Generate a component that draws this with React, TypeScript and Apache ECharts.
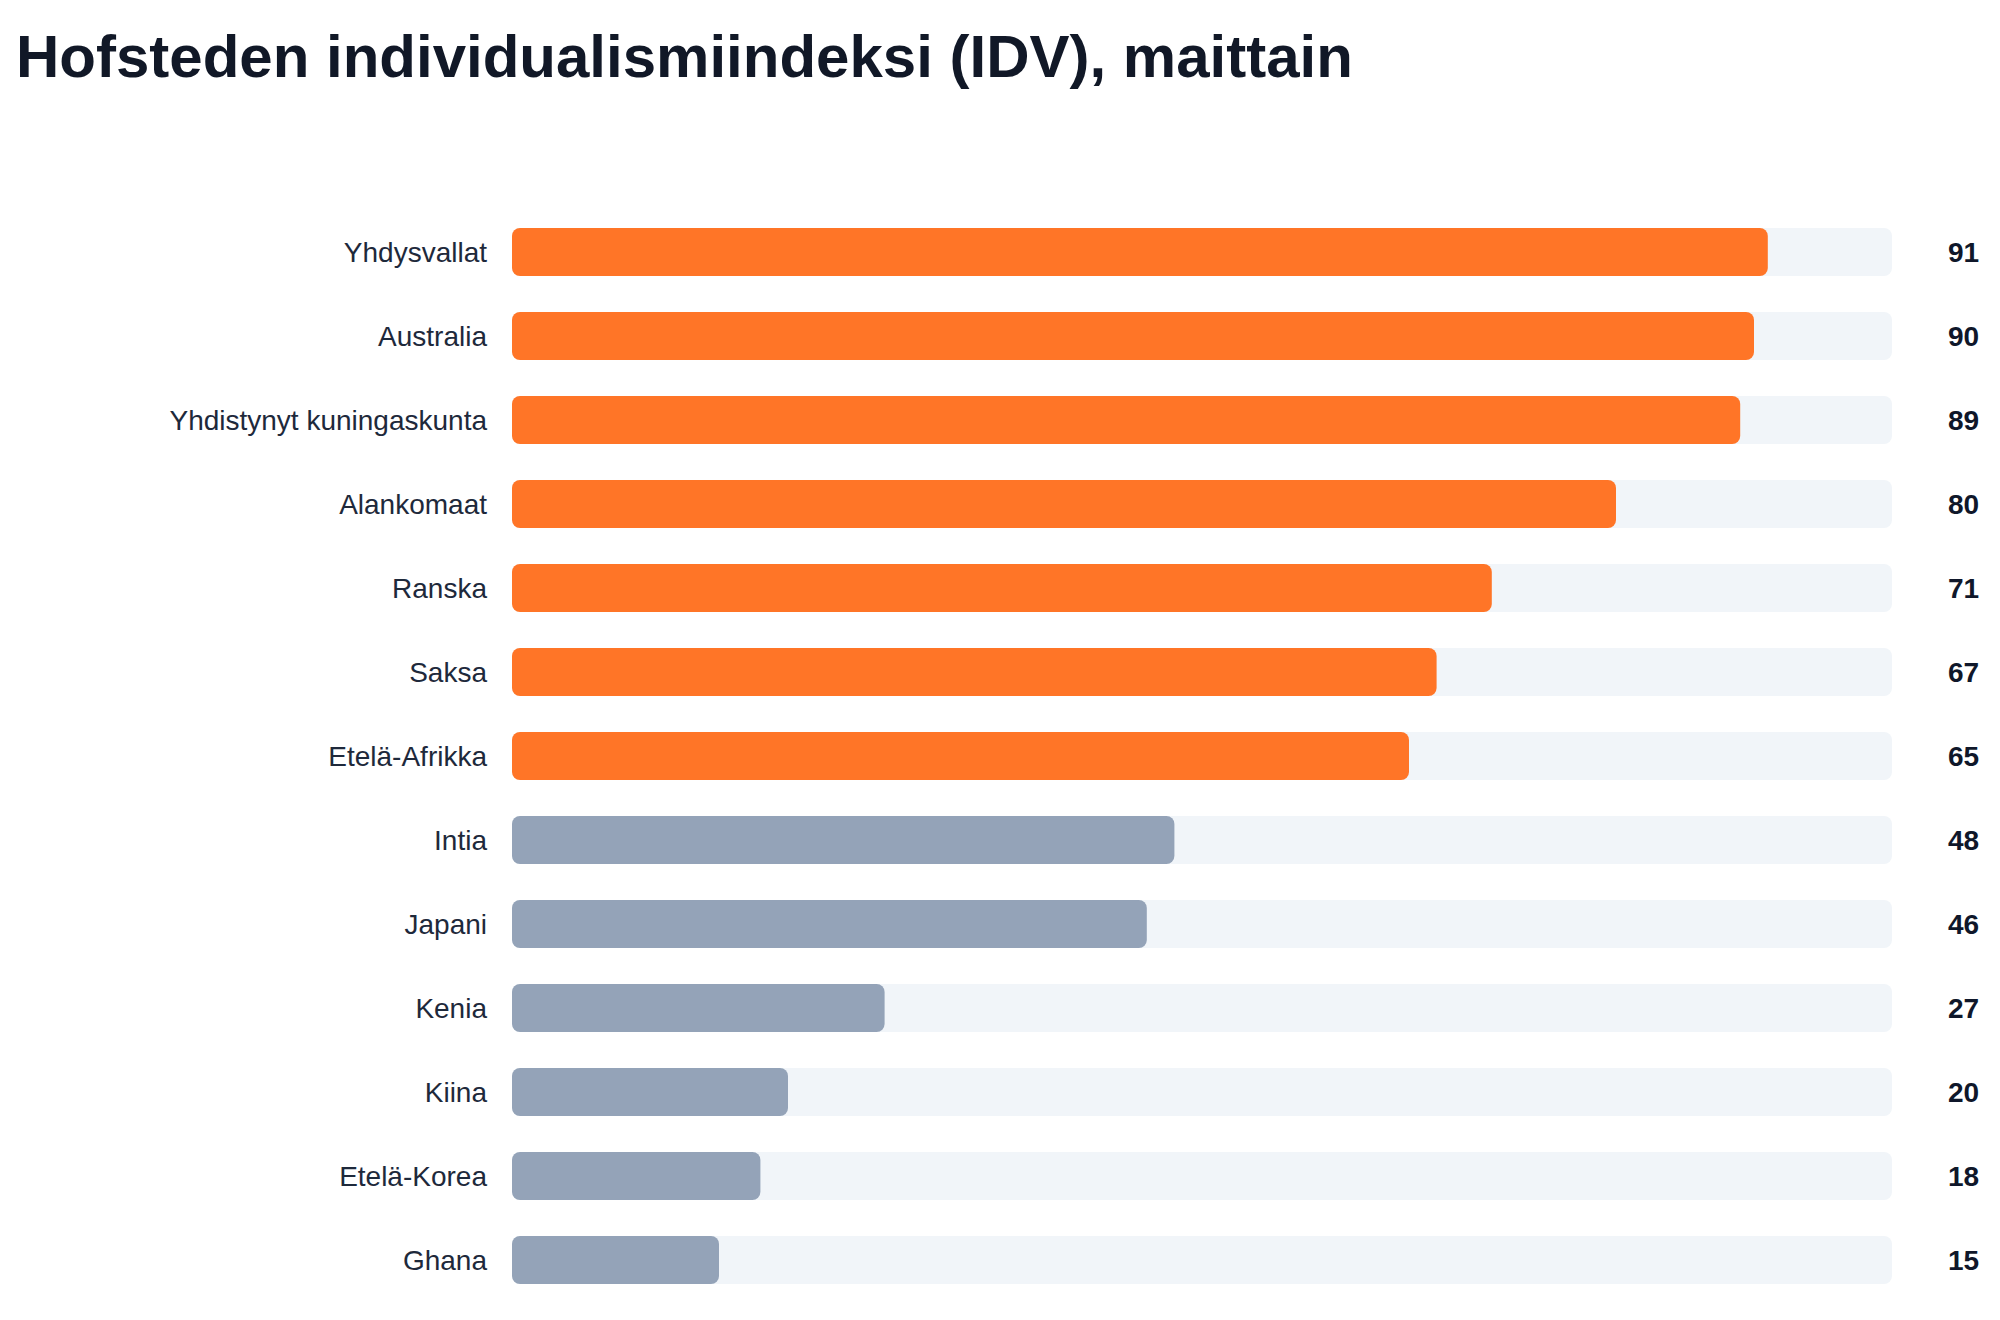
import React, { useEffect, useRef } from "react";
import * as echarts from "echarts";

const TITLE = "Hofsteden individualismiindeksi (IDV), maittain";
const countries = [
  "Yhdysvallat",
  "Australia",
  "Yhdistynyt kuningaskunta",
  "Alankomaat",
  "Ranska",
  "Saksa",
  "Etelä-Afrikka",
  "Intia",
  "Japani",
  "Kenia",
  "Kiina",
  "Etelä-Korea",
  "Ghana",
];
const idv = [91, 90, 89, 80, 71, 67, 65, 48, 46, 27, 20, 18, 15];
const scaleMax = 100;
const highlightThreshold = 50;

const ORANGE = "#ff7527";
const GRAY = "#94a3b8";
const TRACK = "#f1f5f9";
const FONT = "'Liberation Sans', Arial, Helvetica, sans-serif";

export default function App() {
  const ref = useRef<HTMLDivElement>(null);
  useEffect(() => {
    if (!ref.current) return;
    const chart = echarts.init(ref.current, undefined, { renderer: "svg" });
    chart.setOption({
      animation: false,
      backgroundColor: "#ffffff",
      graphic: [
        {
          type: "text",
          left: 16,
          top: 26,
          style: {
            text: TITLE,
            font: `bold 60px ${FONT}`,
            fill: "#111827",
          },
        },
      ],
      grid: { left: 512, right: 108, top: 210, bottom: 18, containLabel: false },
      xAxis: {
        type: "value",
        min: 0,
        max: scaleMax,
        show: false,
      },
      yAxis: {
        type: "category",
        inverse: true,
        data: countries,
        axisLine: { show: false },
        axisTick: { show: false },
        splitLine: { show: false },
        axisLabel: {
          margin: 25,
          fontSize: 28,
          fontFamily: FONT,
          color: "#1e293b",
        },
      },
      series: [
        {
          type: "bar",
          data: idv.map(() => scaleMax),
          barWidth: 48,
          barGap: "-100%",
          silent: true,
          itemStyle: { color: TRACK, borderRadius: 8 },
          label: {
            show: true,
            position: "right",
            distance: 56,
            formatter: (p: any) => String(idv[p.dataIndex]),
            fontSize: 28,
            fontWeight: "bold",
            fontFamily: FONT,
            color: "#0f172a",
          },
          z: 1,
        },
        {
          type: "bar",
          data: idv,
          barWidth: 48,
          barGap: "-100%",
          itemStyle: {
            borderRadius: 8,
            color: (p: any) => (p.value >= highlightThreshold ? ORANGE : GRAY),
          },
          z: 2,
        },
      ],
    });
    return () => chart.dispose();
  }, []);
  return (
    <div
      ref={ref}
      style={{ position: "fixed", left: 0, top: 0, width: 2000, height: 1320 }}
    />
  );
}
